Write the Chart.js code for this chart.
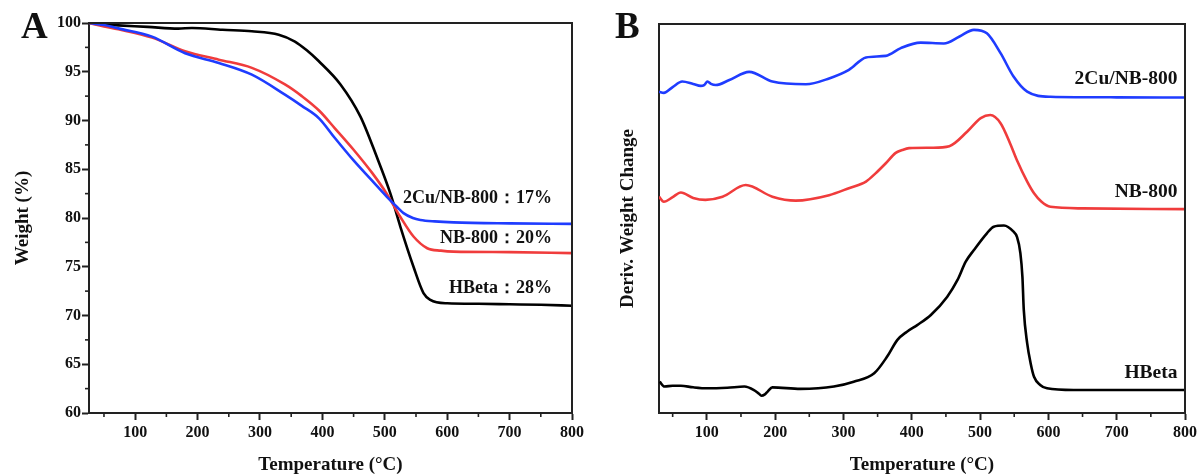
<!DOCTYPE html>
<html>
<head>
<meta charset="utf-8">
<script src="https://cdn.jsdelivr.net/npm/chart.js@4.4.0/dist/chart.umd.min.js"></script>
<style>
  body { margin: 0; background: #fff; }
  #wrap { position: relative; width: 1200px; height: 475px; }
  .box { position: absolute; top: 0; width: 600px; height: 475px; }
  .tag { position: absolute; top: 7px; font: bold 37px "Liberation Serif", "Times New Roman", serif; line-height: 1; color: #111; }
</style>
</head>
<body>
<div id="wrap">
  <div class="box" style="left:0"><canvas id="cA" width="600" height="475"></canvas></div>
  <div class="box" style="left:600px"><canvas id="cB" width="600" height="475"></canvas></div>
  <div class="tag" style="left:21px">A</div>
  <div class="tag" style="left:615px">B</div>
</div>
<script>
const serif = '"Liberation Serif", "Times New Roman", serif';
const ink = '#111';
const blue = '#1f3cff';
const red = '#f03c3c';

// ---- panel A: TGA (weight %) ----
const hbetaT = [26, 50, 73, 120, 169, 191, 240, 287, 330, 356, 375, 394, 429, 461, 487, 509, 525, 546, 562, 573, 600, 650, 700, 750, 800];
const hbetaW = [100, 99.85, 99.76, 99.6, 99.42, 99.49, 99.3, 99.15, 98.8, 98.1, 97.2, 96.1, 93.7, 90.4, 86.3, 82.5, 79.1, 75.0, 72.3, 71.6, 71.25, 71.2, 71.15, 71.1, 71.0];

const nbT = [26, 50, 73, 127, 180, 234, 287, 340, 367, 395, 420, 450, 480, 503, 525, 546, 568, 590, 610, 700, 800];
const nbW = [100, 99.65, 99.35, 98.5, 97.1, 96.24, 95.4, 93.7, 92.5, 91.0, 89.2, 87.0, 84.6, 82.5, 80.1, 78.1, 76.9, 76.65, 76.55, 76.5, 76.4];

const cuT = [26, 50, 73, 127, 180, 234, 287, 340, 367, 395, 420, 450, 480, 503, 520, 530, 545, 557, 580, 610, 700, 800];
const cuW = [100, 99.8, 99.45, 98.6, 96.9, 95.9, 94.7, 92.65, 91.5, 90.2, 88.2, 85.9, 83.8, 82.2, 81.1, 80.5, 80.0, 79.8, 79.65, 79.55, 79.45, 79.4];

// ---- panel B: DTG (arbitrary units, stacked) ----
const cuDT = [30, 37, 50, 64, 80, 91, 96, 101, 106, 113, 133, 162, 196, 245, 279, 308, 333, 362, 384, 413, 447, 470, 491, 510, 530, 549, 569, 603, 700, 800];
const cuDV = [82.6, 82.3, 83.8, 85.2, 84.6, 84.1, 84.3, 85.2, 84.6, 84.3, 85.6, 87.7, 85.2, 84.5, 86.0, 88.2, 91.4, 91.8, 93.8, 95.2, 95.0, 96.8, 98.5, 97.6, 92.5, 86.5, 82.6, 81.3, 81.15, 81.1];

const nbDT = [30, 37, 50, 62, 80, 98, 123, 157, 196, 230, 279, 308, 333, 347, 362, 376, 386, 396, 430, 455, 481, 501, 515, 530, 544, 554, 569, 579, 590, 603, 650, 800];
const nbDV = [55.6, 54.3, 55.5, 56.7, 55.3, 54.8, 55.6, 58.6, 55.6, 54.6, 56.0, 57.8, 59.5, 61.6, 64.2, 66.8, 67.6, 68.1, 68.2, 68.6, 72.3, 75.8, 76.6, 74.5, 69.3, 65.0, 59.5, 56.5, 54.3, 53.0, 52.6, 52.4];

const hbetaDT = [31, 38, 50, 62, 80, 101, 130, 155, 169, 176, 180, 185, 189, 196, 237, 286, 315, 345, 364, 379, 393, 408, 428, 452, 467, 479, 491, 510, 520, 535, 549, 554, 559, 562, 564, 569, 574, 579, 588, 598, 637, 800];
const hbetaDV = [8.05, 6.8, 7.0, 7.0, 6.6, 6.35, 6.5, 6.8, 5.9, 5.0, 4.45, 4.8, 5.5, 6.6, 6.2, 6.8, 8.05, 10.2, 14.5, 18.8, 20.9, 22.6, 25.2, 29.9, 34.2, 38.9, 41.9, 46.2, 47.9, 48.2, 46.6, 45.3, 41.1, 35.0, 26.5, 17.9, 12.8, 9.3, 7.2, 6.35, 5.9, 5.9];

// ticks
const tempTicks = [100, 200, 300, 400, 500, 600, 700, 800];
const tempMinor = [50, 150, 250, 350, 450, 550, 650, 750];
const weightTicks = [60, 65, 70, 75, 80, 85, 90, 95, 100];
const weightMinor = [62.5, 67.5, 72.5, 77.5, 82.5, 87.5, 92.5, 97.5];

function pts(xs, ys) { return xs.map((x, i) => ({ x: x, y: ys[i] })); }

function line(label, xs, ys, color) {
  return {
    label: label,
    data: pts(xs, ys),
    borderColor: color,
    borderWidth: 2.6,
    pointRadius: 0,
    fill: false,
    cubicInterpolationMode: 'monotone'
  };
}

// frame, minor ticks and in-plot labels
const decor = {
  id: 'decor',
  afterDraw(chart, args, o) {
    const { ctx, chartArea: a, scales } = chart;
    ctx.save();
    ctx.strokeStyle = '#222';
    ctx.lineWidth = 2;
    ctx.beginPath();
    ctx.moveTo(a.left, a.top);
    ctx.lineTo(a.right, a.top);
    ctx.lineTo(a.right, a.bottom);
    ctx.stroke();

    ctx.lineWidth = 1.6;
    (o.xMinor || []).forEach(v => {
      const px = scales.x.getPixelForValue(v);
      ctx.beginPath(); ctx.moveTo(px, a.bottom); ctx.lineTo(px, a.bottom + 4); ctx.stroke();
    });
    (o.yMinor || []).forEach(v => {
      const py = scales.y.getPixelForValue(v);
      ctx.beginPath(); ctx.moveTo(a.left, py); ctx.lineTo(a.left - 4, py); ctx.stroke();
    });

    ctx.fillStyle = ink;
    ctx.textAlign = 'right';
    ctx.textBaseline = 'middle';
    ctx.font = 'bold ' + o.noteSize + 'px ' + serif;
    (o.notes || []).forEach(n => {
      ctx.fillText(n.text, scales.x.getPixelForValue(n.x), scales.y.getPixelForValue(n.y));
    });
    ctx.restore();
  }
};

function xScale(min) {
  return {
    type: 'linear', min: min, max: 800,
    afterBuildTicks: s => { s.ticks = tempTicks.map(v => ({ value: v })); },
    afterFit: s => { s.height = 62; },
    grid: { drawOnChartArea: false, tickLength: 7, tickWidth: 2, tickColor: '#222' },
    border: { color: '#222', width: 2 },
    ticks: { font: { family: serif, size: 16, weight: 'bold' }, color: ink, padding: 3, maxRotation: 0 },
    title: { display: true, text: 'Temperature (°C)', color: ink,
      font: { family: serif, size: 19, weight: 'bold', lineHeight: 1 }, padding: { top: 0, bottom: 0 } }
  };
}

Chart.defaults.animation = false;

new Chart(document.getElementById('cA'), {
  type: 'line',
  data: {
    datasets: [
      line('2Cu/NB-800', cuT, cuW, blue),
      line('NB-800', nbT, nbW, red),
      line('HBeta', hbetaT, hbetaW, '#000')
    ]
  },
  options: {
    responsive: false,
    layout: { padding: { top: 23, right: 28, left: 0, bottom: 0 } },
    plugins: {
      legend: { display: false }, tooltip: { enabled: false },
      decor: {
        xMinor: tempMinor, yMinor: weightMinor, noteSize: 18,
        notes: [
          { text: '2Cu/NB-800：17%', x: 768, y: 82.0 },
          { text: 'NB-800：20%', x: 768, y: 77.9 },
          { text: 'HBeta：28%', x: 768, y: 72.8 }
        ]
      }
    },
    scales: {
      x: xScale(26),
      y: {
        min: 60, max: 100,
        afterBuildTicks: s => { s.ticks = weightTicks.map(v => ({ value: v })); },
        afterFit: s => { s.width = 89; },
        grid: { drawOnChartArea: false, tickLength: 7, tickWidth: 2, tickColor: '#222' },
        border: { color: '#222', width: 2 },
        ticks: { font: { family: serif, size: 16, weight: 'bold' }, color: ink, padding: 1 },
        title: { display: true, text: 'Weight (%)', color: ink,
          font: { family: serif, size: 19, weight: 'bold', lineHeight: 1 }, padding: { top: 14, bottom: 0 } }
      }
    }
  },
  plugins: [decor]
});

new Chart(document.getElementById('cB'), {
  type: 'line',
  data: {
    datasets: [
      line('2Cu/NB-800', cuDT, cuDV, blue),
      line('NB-800', nbDT, nbDV, red),
      line('HBeta', hbetaDT, hbetaDV, '#000')
    ]
  },
  options: {
    responsive: false,
    layout: { padding: { top: 24, right: 15, left: 0, bottom: 0 } },
    plugins: {
      legend: { display: false }, tooltip: { enabled: false },
      decor: {
        xMinor: tempMinor, noteSize: 19.5,
        notes: [
          { text: '2Cu/NB-800', x: 789, y: 85.9 },
          { text: 'NB-800', x: 789, y: 56.7 },
          { text: 'HBeta', x: 789, y: 10.2 }
        ]
      }
    },
    scales: {
      x: xScale(30),
      y: {
        min: 0, max: 100,
        afterFit: s => { s.width = 59; },
        grid: { display: false },
        border: { color: '#222', width: 2 },
        ticks: { display: false },
        title: { display: true, text: 'Deriv. Weight Change', color: ink,
          font: { family: serif, size: 19, weight: 'bold', lineHeight: 1 }, padding: { top: 19, bottom: 0 } }
      }
    }
  },
  plugins: [decor]
});
</script>
</body>
</html>
